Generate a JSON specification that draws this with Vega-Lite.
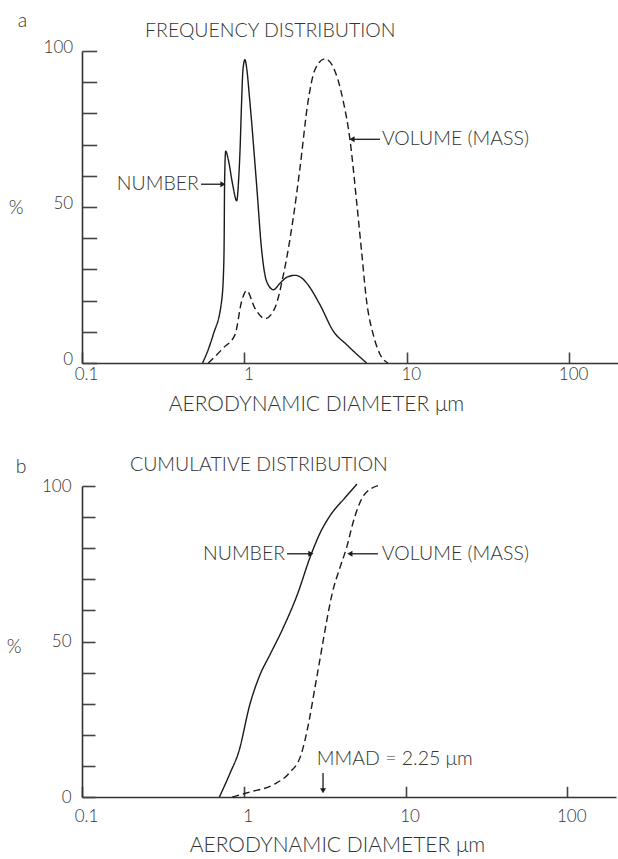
{
  "$schema": "https://vega.github.io/schema/vega-lite/v6.json",
  "padding": {"left": 6, "top": 11, "right": 0, "bottom": 0},
  "background": "white",
  "config": {
    "view": {"stroke": null},
    "font": "Lato",
    "axis": {"domainColor": "#333", "domainWidth": 1.6, "tickColor": "#444", "tickWidth": 1.6, "grid": false,
      "labelFont": "Lato", "labelFontSize": 17, "labelFontWeight": 300, "labelColor": "#333",
      "titleFont": "Lato", "titleFontSize": 21, "titleFontWeight": 300, "titleColor": "#333"},
    "text": {"font": "Lato", "fontSize": 19.5, "fontWeight": 300, "fill": "#333"},
    "concat": {"spacing": 39}
  },
  "datasets": {
    "freq": [
      {"d": 0.553, "pct": 0, "series": "NUMBER"},
      {"d": 0.60, "pct": 4.4, "series": "NUMBER"},
      {"d": 0.643, "pct": 9.1, "series": "NUMBER"},
      {"d": 0.724, "pct": 19.8, "series": "NUMBER"},
      {"d": 0.745, "pct": 30, "series": "NUMBER"},
      {"d": 0.751, "pct": 40, "series": "NUMBER"},
      {"d": 0.755, "pct": 57, "series": "NUMBER"},
      {"d": 0.767, "pct": 67.9, "series": "NUMBER"},
      {"d": 0.796, "pct": 65.2, "series": "NUMBER"},
      {"d": 0.847, "pct": 57.2, "series": "NUMBER"},
      {"d": 0.897, "pct": 52, "series": "NUMBER"},
      {"d": 0.923, "pct": 59.3, "series": "NUMBER"},
      {"d": 0.940, "pct": 68, "series": "NUMBER"},
      {"d": 0.962, "pct": 84, "series": "NUMBER"},
      {"d": 0.980, "pct": 94, "series": "NUMBER"},
      {"d": 1.008, "pct": 97.2, "series": "NUMBER"},
      {"d": 1.03, "pct": 95, "series": "NUMBER"},
      {"d": 1.08, "pct": 84, "series": "NUMBER"},
      {"d": 1.19, "pct": 57, "series": "NUMBER"},
      {"d": 1.28, "pct": 35.8, "series": "NUMBER"},
      {"d": 1.37, "pct": 26.2, "series": "NUMBER"},
      {"d": 1.51, "pct": 23.5, "series": "NUMBER"},
      {"d": 1.66, "pct": 25.6, "series": "NUMBER"},
      {"d": 1.83, "pct": 27.5, "series": "NUMBER"},
      {"d": 2.05, "pct": 28.1, "series": "NUMBER"},
      {"d": 2.25, "pct": 27.3, "series": "NUMBER"},
      {"d": 2.42, "pct": 25.6, "series": "NUMBER"},
      {"d": 2.92, "pct": 18.7, "series": "NUMBER"},
      {"d": 3.53, "pct": 10.2, "series": "NUMBER"},
      {"d": 4.26, "pct": 5.9, "series": "NUMBER"},
      {"d": 5.0, "pct": 2.5, "series": "NUMBER"},
      {"d": 5.66, "pct": 0, "series": "NUMBER"},
      {"d": 0.60, "pct": 0, "series": "VOLUME (MASS)"},
      {"d": 0.741, "pct": 4.8, "series": "VOLUME (MASS)"},
      {"d": 0.876, "pct": 9.1, "series": "VOLUME (MASS)"},
      {"d": 0.962, "pct": 19.8, "series": "VOLUME (MASS)"},
      {"d": 1.033, "pct": 23.2, "series": "VOLUME (MASS)"},
      {"d": 1.16, "pct": 17.6, "series": "VOLUME (MASS)"},
      {"d": 1.34, "pct": 14.2, "series": "VOLUME (MASS)"},
      {"d": 1.54, "pct": 17.6, "series": "VOLUME (MASS)"},
      {"d": 1.74, "pct": 28.3, "series": "VOLUME (MASS)"},
      {"d": 2.00, "pct": 46.5, "series": "VOLUME (MASS)"},
      {"d": 2.20, "pct": 62.5, "series": "VOLUME (MASS)"},
      {"d": 2.47, "pct": 84, "series": "VOLUME (MASS)"},
      {"d": 2.72, "pct": 94, "series": "VOLUME (MASS)"},
      {"d": 3.13, "pct": 97.5, "series": "VOLUME (MASS)"},
      {"d": 3.51, "pct": 95, "series": "VOLUME (MASS)"},
      {"d": 4.06, "pct": 84, "series": "VOLUME (MASS)"},
      {"d": 4.47, "pct": 71.6, "series": "VOLUME (MASS)"},
      {"d": 4.91, "pct": 51.8, "series": "VOLUME (MASS)"},
      {"d": 5.27, "pct": 35.8, "series": "VOLUME (MASS)"},
      {"d": 5.66, "pct": 19.8, "series": "VOLUME (MASS)"},
      {"d": 6.22, "pct": 9.1, "series": "VOLUME (MASS)"},
      {"d": 6.84, "pct": 2.8, "series": "VOLUME (MASS)"},
      {"d": 7.66, "pct": 0, "series": "VOLUME (MASS)"}
    ],
    "cum": [
      {"d": 0.707, "pct": 0, "series": "NUMBER"},
      {"d": 0.82, "pct": 7.5, "series": "NUMBER"},
      {"d": 0.933, "pct": 14.7, "series": "NUMBER"},
      {"d": 1.09, "pct": 29.7, "series": "NUMBER"},
      {"d": 1.26, "pct": 39.3, "series": "NUMBER"},
      {"d": 1.45, "pct": 45.7, "series": "NUMBER"},
      {"d": 1.71, "pct": 53.2, "series": "NUMBER"},
      {"d": 2.14, "pct": 65, "series": "NUMBER"},
      {"d": 2.60, "pct": 77.8, "series": "NUMBER"},
      {"d": 2.99, "pct": 85.3, "series": "NUMBER"},
      {"d": 3.44, "pct": 90.7, "series": "NUMBER"},
      {"d": 4.19, "pct": 96, "series": "NUMBER"},
      {"d": 5.01, "pct": 100.6, "series": "NUMBER"},
      {"d": 0.849, "pct": 0, "series": "VOLUME (MASS)"},
      {"d": 1.09, "pct": 1.6, "series": "VOLUME (MASS)"},
      {"d": 1.53, "pct": 4.0, "series": "VOLUME (MASS)"},
      {"d": 1.91, "pct": 7.7, "series": "VOLUME (MASS)"},
      {"d": 2.26, "pct": 13.6, "series": "VOLUME (MASS)"},
      {"d": 2.53, "pct": 24.3, "series": "VOLUME (MASS)"},
      {"d": 2.75, "pct": 35, "series": "VOLUME (MASS)"},
      {"d": 2.99, "pct": 45.7, "series": "VOLUME (MASS)"},
      {"d": 3.25, "pct": 56.4, "series": "VOLUME (MASS)"},
      {"d": 3.54, "pct": 66, "series": "VOLUME (MASS)"},
      {"d": 3.9, "pct": 73.2, "series": "VOLUME (MASS)"},
      {"d": 4.31, "pct": 80, "series": "VOLUME (MASS)"},
      {"d": 4.82, "pct": 89.6, "series": "VOLUME (MASS)"},
      {"d": 5.54, "pct": 97.1, "series": "VOLUME (MASS)"},
      {"d": 6.75, "pct": 100.1, "series": "VOLUME (MASS)"}
    ],
    "textA_left": [
      {"d": 0.0402, "pct": 109.5, "text": "a"},
      {"d": 0.2445, "pct": 106.5, "text": "FREQUENCY DISTRIBUTION"},
      {"d": 7.03, "pct": 71.7, "text": "VOLUME (MASS)"}
    ],
    "textA_right": [
      {"d": 0.525, "pct": 57.3, "text": "NUMBER"}
    ],
    "shaftsA": [
      {"d": 0.541, "d2": 0.738, "pct": 57.3},
      {"d": 6.84, "d2": 4.60, "pct": 71.7}
    ],
    "headsA": [
      {"d": 0.738, "pct": 57.3, "dir": "right"},
      {"d": 4.60, "pct": 71.7, "dir": "left"}
    ],
    "textB_left": [
      {"d": 0.0389, "pct": 106.2, "text": "b"},
      {"d": 0.198, "pct": 106.9, "text": "CUMULATIVE DISTRIBUTION"},
      {"d": 7.14, "pct": 78.2, "text": "VOLUME (MASS)"},
      {"d": 2.83, "pct": 12.1, "text": "MMAD = 2.25 μm"}
    ],
    "textB_right": [
      {"d": 1.80, "pct": 78.2, "text": "NUMBER"}
    ],
    "shaftsB": [
      {"d": 1.85, "d2": 2.60, "pct": 78.2},
      {"d": 6.75, "d2": 4.53, "pct": 78.2}
    ],
    "vshaftsB": [
      {"d": 3.09, "pct": 7.7, "pct2": 2.0}
    ],
    "headsB": [
      {"d": 2.60, "pct": 78.2, "dir": "right"},
      {"d": 4.53, "pct": 78.2, "dir": "left"},
      {"d": 3.09, "pct": 2.0, "dir": "down"}
    ]
  },
  "vconcat": [
    {
      "width": 536,
      "height": 312,
      "encoding": {
        "x": {"field": "d", "type": "quantitative",
          "scale": {"type": "log", "domain": [0.1, 200], "nice": false},
          "axis": {"title": "AERODYNAMIC DIAMETER μm", "values": [0.1, 1, 10, 100], "format": "~g",
            "tickSize": -11, "labelPadding": 14, "labelOffset": 4, "labelFlush": false, "labelOverlap": false,
            "titleX": 234, "titleY": 41.6, "titleBaseline": "middle", "titleAlign": "center"}},
        "y": {"field": "pct", "type": "quantitative",
          "scale": {"domain": [0, 100], "nice": false},
          "axis": {"title": "%", "values": [0, 10, 20, 30, 40, 50, 60, 70, 80, 90, 100],
            "labelExpr": "datum.value % 50 === 0 ? datum.label : ''",
            "tickSize": -14.7, "labelPadding": 24, "labelOffset": -4, "labelFlush": false,
            "titleAngle": 0, "titleX": -66.3, "titleY": 156, "titleBaseline": "middle", "titleAlign": "center", "titleFontSize": 19}}
      },
      "layer": [
        {
          "data": {"name": "freq"},
          "mark": {"type": "line", "interpolate": "monotone", "color": "#1a1a1a", "strokeWidth": 1.4},
          "encoding": {
            "strokeDash": {"field": "series", "type": "nominal",
              "scale": {"domain": ["NUMBER", "VOLUME (MASS)"], "range": [[1, 0], [7, 4]]}, "legend": null}
          }
        },
        {
          "data": {"name": "textA_left"},
          "mark": {"type": "text", "align": "left", "baseline": "middle"},
          "encoding": {"text": {"field": "text"}}
        },
        {
          "data": {"name": "textA_right"},
          "mark": {"type": "text", "align": "right", "baseline": "middle"},
          "encoding": {"text": {"field": "text"}}
        },
        {
          "data": {"name": "shaftsA"},
          "mark": {"type": "rule", "color": "#1a1a1a", "strokeWidth": 1.3},
          "encoding": {"x2": {"field": "d2"}}
        },
        {
          "data": {"name": "headsA"},
          "mark": {"type": "point", "filled": true, "opacity": 1, "color": "#1a1a1a", "size": 35},
          "encoding": {
            "shape": {"field": "dir", "type": "nominal",
              "scale": {"domain": ["right", "left", "down"], "range": ["triangle-right", "triangle-left", "triangle-down"]}, "legend": null}
          }
        }
      ]
    },
    {
      "width": 534,
      "height": 311,
      "encoding": {
        "x": {"field": "d", "type": "quantitative",
          "scale": {"type": "log", "domain": [0.1, 200], "nice": false},
          "axis": {"title": "AERODYNAMIC DIAMETER μm", "values": [0.1, 1, 10, 100], "format": "~g",
            "tickSize": -10.7, "labelPadding": 22, "labelOffset": 4, "labelFlush": false, "labelOverlap": false,
            "titleX": 255, "titleY": 48.3, "titleBaseline": "middle", "titleAlign": "center"}},
        "y": {"field": "pct", "type": "quantitative",
          "scale": {"domain": [0, 100], "nice": false},
          "axis": {"title": "%", "values": [0, 10, 20, 30, 40, 50, 60, 70, 80, 90, 100],
            "labelExpr": "datum.value % 50 === 0 ? datum.label : ''",
            "tickSize": -13, "labelPadding": 24, "labelOffset": 0, "labelFlush": false,
            "titleAngle": 0, "titleX": -68.3, "titleY": 160.7, "titleBaseline": "middle", "titleAlign": "center", "titleFontSize": 19}}
      },
      "layer": [
        {
          "data": {"name": "cum"},
          "mark": {"type": "line", "interpolate": "monotone", "color": "#1a1a1a", "strokeWidth": 1.4},
          "encoding": {
            "strokeDash": {"field": "series", "type": "nominal",
              "scale": {"domain": ["NUMBER", "VOLUME (MASS)"], "range": [[1, 0], [7, 4]]}, "legend": null}
          }
        },
        {
          "data": {"name": "textB_left"},
          "mark": {"type": "text", "align": "left", "baseline": "middle"},
          "encoding": {"text": {"field": "text"}}
        },
        {
          "data": {"name": "textB_right"},
          "mark": {"type": "text", "align": "right", "baseline": "middle"},
          "encoding": {"text": {"field": "text"}}
        },
        {
          "data": {"name": "shaftsB"},
          "mark": {"type": "rule", "color": "#1a1a1a", "strokeWidth": 1.3},
          "encoding": {"x2": {"field": "d2"}}
        },
        {
          "data": {"name": "vshaftsB"},
          "mark": {"type": "rule", "color": "#1a1a1a", "strokeWidth": 1.3},
          "encoding": {"y2": {"field": "pct2"}}
        },
        {
          "data": {"name": "headsB"},
          "mark": {"type": "point", "filled": true, "opacity": 1, "color": "#1a1a1a", "size": 35},
          "encoding": {
            "shape": {"field": "dir", "type": "nominal",
              "scale": {"domain": ["right", "left", "down"], "range": ["triangle-right", "triangle-left", "triangle-down"]}, "legend": null}
          }
        }
      ]
    }
  ]
}
